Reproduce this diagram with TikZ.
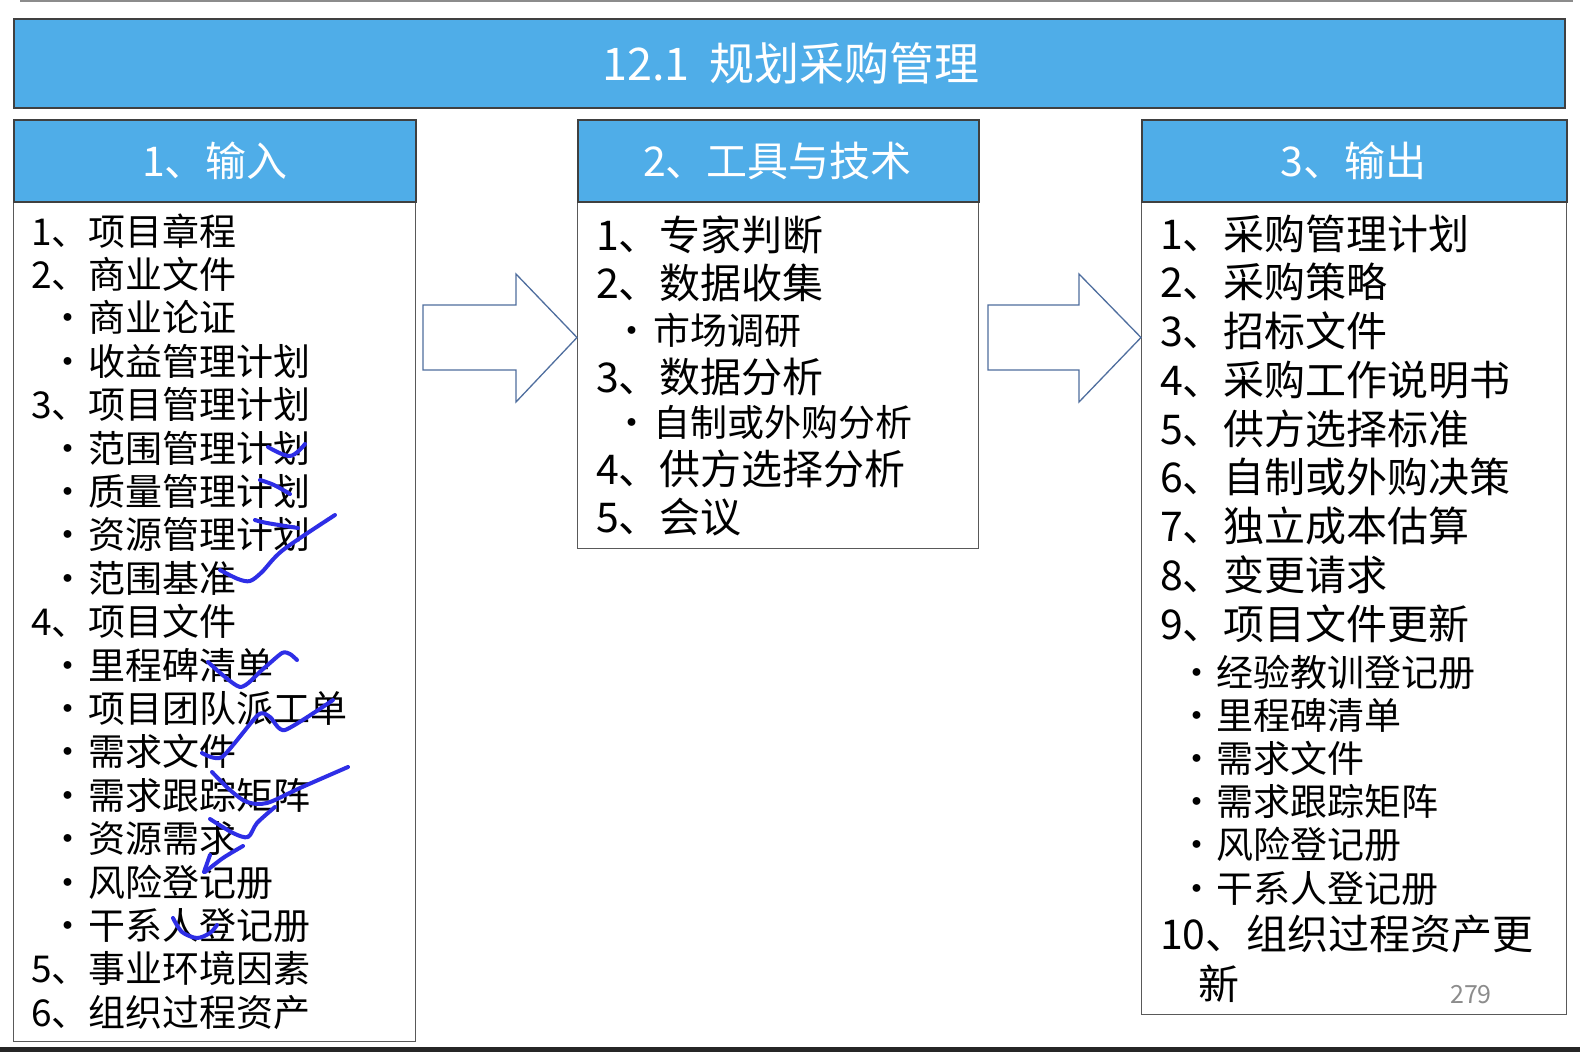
\documentclass[tikz,border=0pt]{standalone}
\usepackage{fontspec}
\setmainfont{Noto Sans CJK SC}
\definecolor{hblue}{HTML}{4FADE8}
\definecolor{arrowc}{HTML}{4F6E9E}
\definecolor{inkblue}{HTML}{2E2EE6}
\definecolor{pgnum}{HTML}{8C8C8C}
\begin{document}
\begin{tikzpicture}[x=1pt,y=-1pt,
  hdr/.style={fill=hblue, draw=black!75, line width=1.5pt},
  bodybox/.style={draw=black!65, line width=1.3pt, fill=white},
  fa/.style={font=\fontsize{37}{41}\selectfont},
  fb/.style={font=\fontsize{41}{45}\selectfont},
  ln/.style={anchor=base west, inner sep=0pt, text=black},
  bl/.style={anchor=base, inner sep=0pt, text=black},
  arr/.style={draw=arrowc, fill=white, line width=1.3pt, line join=miter},
  ink/.style={draw=inkblue, line width=4pt, line cap=round, line join=round}
]
\useasboundingbox (0,0) rectangle (1580,1052);
\fill[white] (0,0) rectangle (1580,1052);
% top thin line and bottom band
\draw[black!45, line width=2pt] (20,1) -- (1573,1);
\fill[black!85] (0,1047) rectangle (1580,1052);

% title bar
\node[hdr, anchor=north west, minimum width=1551pt, minimum height=89pt, inner sep=0pt] (title) at (13,18) {};
\node[anchor=base, inner sep=0pt, text=white, font=\fontsize{45}{50}\selectfont] (titletext) at (791,80) {12.1\hspace{20pt}规划采购管理};

% column bodies
\node[bodybox, anchor=north west, minimum width=402pt, minimum height=922pt, inner sep=0pt] (col1) at (13,119) {};
\node[bodybox, anchor=north west, minimum width=401pt, minimum height=429pt, inner sep=0pt] (col2) at (577,119) {};
\node[bodybox, anchor=north west, minimum width=425pt, minimum height=895pt, inner sep=0pt] (col3) at (1141,119) {};
% column headers
\node[hdr, anchor=north west, minimum width=402pt, minimum height=82pt, inner sep=0pt] (h1) at (13,119) {};
\node[hdr, anchor=north west, minimum width=401pt, minimum height=82pt, inner sep=0pt] (h2) at (577,119) {};
\node[hdr, anchor=north west, minimum width=425pt, minimum height=82pt, inner sep=0pt] (h3) at (1141,119) {};
\node[anchor=base, inner sep=0pt, text=white, fb] (h1t) at (215,176) {1、输入};
\node[anchor=base, inner sep=0pt, text=white, fb] (h2t) at (777.5,176) {2、工具与技术};
\node[anchor=base, inner sep=0pt, text=white, fb] (h3t) at (1353.5,176) {3、输出};

% block arrows
\draw[arr] (423,305) -- (516,305) -- (516,274) -- (col2.west |- 0,337.5) -- (516,402) -- (516,370) -- (423,370) -- cycle;
\draw[arr] (988,305) -- (1079,305) -- (1079,274) -- (col3.west |- 0,337.5) -- (1079,402) -- (1079,370) -- (988,370) -- cycle;

% column 1 text
\foreach \i/\t in {1/1、项目章程, 2/2、商业文件, 5/3、项目管理计划, 10/4、项目文件, 18/5、事业环境因素, 19/6、组织过程资产}{
  \pgfmathsetmacro\yy{245.1+(\i-1)*43.4}
  \node[ln, fa] (c1n\i) at (31,\yy) {\t};
}
\foreach \i/\t in {3/商业论证, 4/收益管理计划, 6/范围管理计划, 7/质量管理计划, 8/资源管理计划, 9/范围基准, 11/里程碑清单, 12/项目团队派工单, 13/需求文件, 14/需求跟踪矩阵, 15/资源需求, 16/风险登记册, 17/干系人登记册}{
  \pgfmathsetmacro\yy{245.1+(\i-1)*43.4}
  \node[bl, fa] (c1d\i) at (68,\yy) {•};
  \node[ln, fa] (c1b\i) at (88,\yy) {\t};
}

% column 2 text
\foreach \i/\yy/\t in {1/250.6/1、专家判断, 2/298.6/2、数据收集, 3/392.6/3、数据分析, 4/484.6/4、供方选择分析, 5/532.6/5、会议}{
  \node[ln, fb] (c2n\i) at (596,\yy) {\t};
}
\foreach \i/\yy/\t in {1/344.1/市场调研, 2/436.1/自制或外购分析}{
  \node[bl, fa] (c2d\i) at (632,\yy) {•};
  \node[ln, fa] (c2b\i) at (653,\yy) {\t};
}

% column 3 text
\foreach \i/\t in {1/1、采购管理计划, 2/2、采购策略, 3/3、招标文件, 4/4、采购工作说明书, 5/5、供方选择标准, 6/6、自制或外购决策, 7/7、独立成本估算, 8/8、变更请求, 9/9、项目文件更新}{
  \pgfmathsetmacro\yy{249.1+(\i-1)*48.75}
  \node[ln, fb] (c3n\i) at (1160,\yy) {\t};
}
\foreach \i/\t in {0/经验教训登记册, 1/里程碑清单, 2/需求文件, 3/需求跟踪矩阵, 4/风险登记册, 5/干系人登记册}{
  \pgfmathsetmacro\yy{686.1+\i*43.2}
  \node[bl, fa] (c3d\i) at (1197,\yy) {•};
  \node[ln, fa] (c3b\i) at (1216,\yy) {\t};
}
\node[ln, fb] (c3n10) at (1160,949.6) {10、组织过程资产更};
\node[ln, fb] (c3n10b) at (1198,999.1) {新};
\node[anchor=base west, inner sep=0pt, text=pgnum, font=\fontsize{25}{28}\selectfont] (pagenum) at (1450,1003.5) {279};

% handwritten blue marks
\draw[ink] plot[smooth, tension=0.6] coordinates {(268,447) (290,456) (305,444)};
\draw[ink] plot[smooth, tension=0.6] coordinates {(260,480) (274,485) (290,494)};
\draw[ink] plot[smooth, tension=0.6] coordinates {(255,520) (267,523) (298,528)};
\draw[ink] plot[smooth, tension=0.5] coordinates {(220,570) (238,579) (250,581) (262,572) (283,550) (335,515)};
\draw[ink] plot[smooth, tension=0.4] coordinates {(208,662) (240,687) (263,669) (282,653) (290,654) (297,660)};
\draw[ink] plot[smooth, tension=0.4] coordinates {(202,753) (222,757) (258,715) (270,717) (285,730) (333,700)};
\draw[ink] plot[smooth, tension=0.5] coordinates {(212,772) (230,790) (247,802) (267,803) (300,788) (348,767)};
\draw[ink] plot[smooth, tension=0.5] coordinates {(210,819) (233,833) (248,837) (257,823) (275,807)};
\draw[ink] plot[smooth, tension=0.5] coordinates {(243,846) (223,858) (205,872)};
\draw[ink] (210,855) -- (204,872);
\draw[ink] plot[smooth, tension=0.5] coordinates {(173,918) (182,932) (197,938) (210,933) (217,925)};
\end{tikzpicture}
\end{document}
